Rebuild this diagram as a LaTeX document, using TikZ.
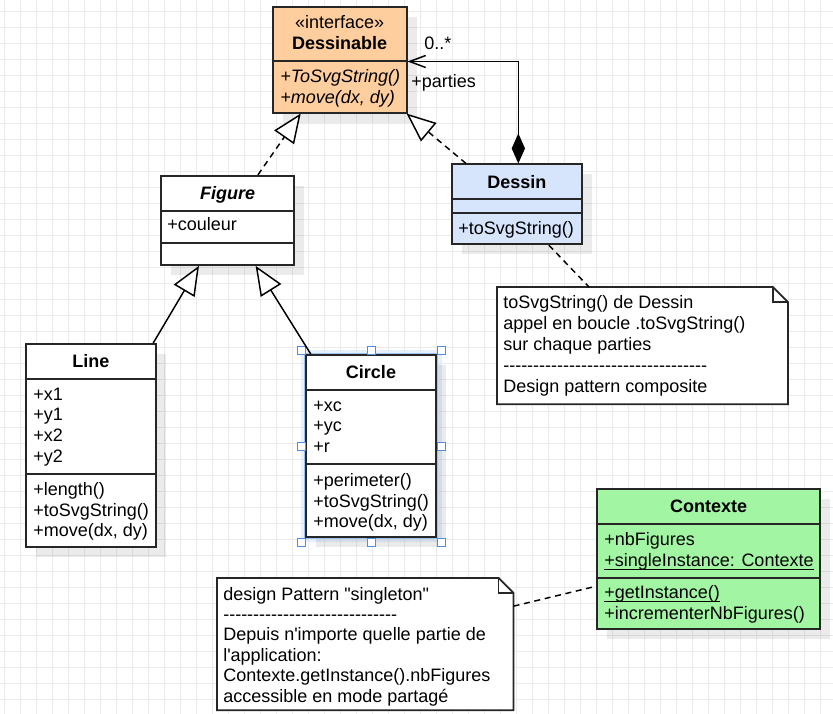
\documentclass[tikz,border=0pt]{standalone}
\usepackage{fontspec}
\setmainfont{Liberation Sans}[Ligatures=TeXOff]
\usetikzlibrary{arrows.meta,calc,fit,shadows}
\definecolor{gridc}{HTML}{EBEBEB}
\definecolor{ifacefill}{HTML}{FFCE9F}
\definecolor{dessinfill}{HTML}{D6E4FC}
\definecolor{ctxfill}{HTML}{A2F5A2}
\definecolor{edgec}{HTML}{262626}
\definecolor{selfill}{HTML}{D3E5FB}
\definecolor{selline}{HTML}{9CC2F2}
\definecolor{handlec}{HTML}{4A90E2}

\begin{document}
\begin{tikzpicture}[x=0.75pt,y=-0.75pt,
  every node/.style={font=\fontsize{13.5}{16}\selectfont, text=black},
  box/.style={draw=edgec, line width=1.3pt, inner sep=0pt, fill=white,
    drop shadow={shadow xshift=7.5pt, shadow yshift=-7.5pt, opacity=0.08, fill=black}},
  notebox/.style={draw=none, inner sep=0pt},
  noteline/.style={draw=edgec, line width=1.3pt, fill=white, line join=miter},
  divider/.style={draw=edgec, line width=1.3pt},
  txt/.style={inner sep=0pt, anchor=base west},
  ttl/.style={inner sep=0pt, anchor=base, font=\fontsize{13.5}{16}\selectfont\bfseries},
  realize/.style={draw=black, line width=1.1pt, dash pattern=on 4.5pt off 3.5pt,
    -{Triangle[length=21.75pt, width=18pt, fill=white]}},
  inherit/.style={draw=black, line width=1.1pt,
    -{Triangle[length=21.75pt, width=18pt, fill=white]}},
  compose/.style={draw=black, line width=1.1pt,
    {Diamond[length=22.5pt, width=10pt]}-{Straight Barb[length=12pt, width=9pt]}},
  notelink/.style={draw=black, line width=1.1pt, dash pattern=on 4.5pt off 3.5pt},
  handle/.style={draw=handlec, fill=white, line width=0.75pt},
]
% canvas and grid
\fill[white] (0,0) rectangle (833,714);
\useasboundingbox (0,0) rectangle (833,714);
\foreach \gx in {4,20,...,820} \draw[gridc, line width=0.75pt] (\gx,0) -- (\gx,714);
\foreach \gy in {11,27,...,699} \draw[gridc, line width=0.75pt] (0,\gy) -- (833,\gy);

% interface Dessinable
\node[box, fill=ifacefill, fit={(272.7,7.3) (406.7,112.7)}] (dsb) {};
\draw[divider] (272.7,61) -- (406.7,61);
\node[ttl, font=\fontsize{13.5}{16}\selectfont] (dsbS) at (339.7,28) {«interface»};
\node[ttl] (dsbN) at (339.7,49) {Dessinable};
\node[txt, font=\fontsize{13.5}{16}\selectfont\itshape] (dsbM1) at (280,82) {+ToSvgString()};
\node[txt, font=\fontsize{13.5}{16}\selectfont\itshape] (dsbM2) at (280,103) {+move(dx, dy)};

% class Dessin
\node[box, fill=dessinfill, fit={(452,164.3) (581.7,244.3)}] (dessin) {};
\draw[divider] (452,199) -- (581.7,199);
\draw[divider] (452,213.3) -- (581.7,213.3);
\node[ttl] (dessinN) at (516.85,188) {Dessin};
\node[txt] (dessinM1) at (458,234) {+toSvgString()};

% abstract class Figure
\node[box, fit={(161,175.7) (294.3,265)}] (fig) {};
\draw[divider] (161,211.3) -- (294.3,211.3);
\draw[divider] (161,242.7) -- (294.3,242.7);
\node[ttl, font=\fontsize{13.5}{16}\selectfont\bfseries\itshape] (figN) at (227.65,199) {Figure};
\node[txt] (figA1) at (167,230) {+couleur};

% class Line
\node[box, fit={(26,344) (155.7,546.7)}] (line) {};
\draw[divider] (26,379) -- (155.7,379);
\draw[divider] (26,474.3) -- (155.7,474.3);
\node[ttl] (lineN) at (90.85,367) {Line};
\node[txt] (lineA1) at (33,400) {+x1};
\node[txt] (lineA2) at (33,420.7) {+y1};
\node[txt] (lineA3) at (33,441.3) {+x2};
\node[txt] (lineA4) at (33,462) {+y2};
\node[txt] (lineM1) at (33,495.3) {+length()};
\node[txt] (lineM2) at (33,516) {+toSvgString()};
\node[txt] (lineM3) at (33,536.7) {+move(dx, dy)};

% class Circle (selected)
\fill[selfill, opacity=0.55] (301,350) rectangle (441.7,542.3);
\node[box, fit={(306,355) (436,537.3)}] (circ) {};
\draw[selline, line width=0.75pt] (304.4,353.4) rectangle (437.6,538.9);
\draw[divider] (306,390) -- (436,390);
\draw[divider] (306,464.3) -- (436,464.3);
\node[ttl] (circN) at (371,378.3) {Circle};
\node[txt] (circA1) at (313,411) {+xc};
\node[txt] (circA2) at (313,431.7) {+yc};
\node[txt] (circA3) at (313,452) {+r};
\node[txt] (circM1) at (313,486) {+perimeter()};
\node[txt] (circM2) at (313,507) {+toSvgString()};
\node[txt] (circM3) at (313,527.7) {+move(dx, dy)};
\foreach \hx/\hy in {301/350, 371.7/350, 441.7/350, 301/446, 441.7/446,
                     301/542.3, 371.7/542.3, 441.7/542.3}
  \draw[handle] (\hx-4,\hy-4) rectangle (\hx+4,\hy+4);

% singleton Contexte
\node[box, fill=ctxfill, fit={(597.3,489.3) (820,629)}] (ctx) {};
\draw[divider] (597.3,524.3) -- (820,524.3);
\draw[divider] (597.3,577.7) -- (820,577.7);
\node[ttl] (ctxN) at (708.65,512.7) {Contexte};
\node[txt] (ctxA1) at (604,545.3) {+nbFigures};
\node[txt] (ctxA2) at (604,566) {+singleInstance: Contexte};
\node[txt] (ctxM1) at (604,598.3) {+getInstance()};
\node[txt] (ctxM2) at (604,619.3) {+incrementerNbFigures()};
\draw[line width=0.9pt] ($(ctxA2.base west)+(0,3.3)$) -- ($(ctxA2.base east)+(0,3.3)$);
\draw[line width=0.9pt] ($(ctxM1.base west)+(0,3.3)$) -- ($(ctxM1.base east)+(0,3.3)$);

% note on Dessin
\node[notebox, fit={(497.3,287.3) (787.7,404)}] (note1) {};
\draw[noteline] (note1.north west) -- ($(note1.north east)+(-15,0)$)
  -- ($(note1.north east)+(0,15)$) -- (note1.south east) -- (note1.south west) -- cycle;
\draw[noteline, fill=none] ($(note1.north east)+(-15,0)$) -- ($(note1.north east)+(-15,15)$)
  -- ($(note1.north east)+(0,15)$);
\node[txt] (n1l1) at (503,308.5) {toSvgString() de Dessin};
\node[txt] (n1l2) at (503,329.6) {appel en boucle .toSvgString()};
\node[txt] (n1l3) at (503,350.7) {sur chaque parties};
\node[txt] (n1l4) at (503,371.8) {----------------------------------};
\node[txt] (n1l5) at (503,392.9) {Design pattern composite};

% note on Contexte
\node[notebox, fit={(217.3,578.3) (513.3,710)}] (note2) {};
\draw[noteline] (note2.north west) -- ($(note2.north east)+(-15,0)$)
  -- ($(note2.north east)+(0,15)$) -- (note2.south east) -- (note2.south west) -- cycle;
\draw[noteline, fill=none] ($(note2.north east)+(-15,0)$) -- ($(note2.north east)+(-15,15)$)
  -- ($(note2.north east)+(0,15)$);
\node[txt] (n2l1) at (223,600) {design Pattern "singleton"};
\node[txt] (n2l2) at (223,620.4) {-----------------------------};
\node[txt] (n2l3) at (223,640.8) {Depuis n'importe quelle partie de};
\node[txt] (n2l4) at (223,661.2) {l'application:};
\node[txt] (n2l5) at (223,681.6) {Contexte.getInstance().nbFigures};
\node[txt] (n2l6) at (223,702) {accessible en mode partagé};

% relations
\draw[realize] ($(fig.north)+(30.3,0)$) -- ($(dsb.south)+(-39,0)$);
\draw[realize] ($(dessin.north)+(-50.9,0)$) -- ($(dsb.south east)+(-1,0)$);
\draw[compose] ($(dessin.north)+(1.5,0)$) |- ($(dsb.east)+(0,1.5)$);
\node[txt] (mult) at (424,49) {0..*};
\node[txt] (role) at (411,87) {+parties};
\draw[inherit] ($(line.north east)+(-3.4,0)$) -- ($(fig.south)+(-28.7,0)$);
\draw[inherit] ($(circ.north west)+(5.7,0)$) -- ($(fig.south)+(28,0)$);
\draw[notelink] ($(dessin.south)+(32,0)$) -- ($(note1.north)+(-53.5,0)$);
\draw[notelink] ($(note2.east)+(0,-38)$) -- ($(ctx.west)+(0,27)$);
\end{tikzpicture}
\end{document}
